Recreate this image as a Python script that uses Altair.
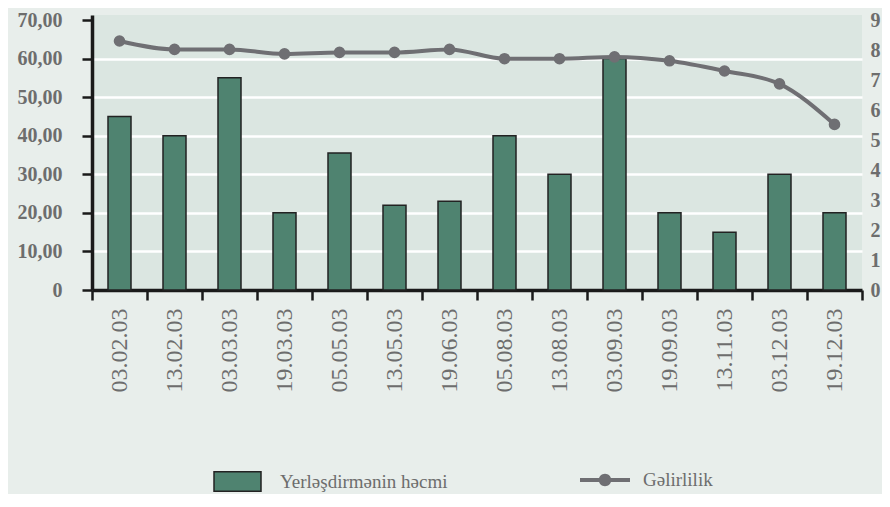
import altair as alt
import pandas as pd

dates = ["03.02.03", "13.02.03", "03.03.03", "19.03.03", "05.05.03", "13.05.03", "19.06.03",
         "05.08.03", "13.08.03", "03.09.03", "19.09.03", "13.11.03", "03.12.03", "19.12.03"]
volume = [45, 40, 55, 20, 35.5, 22, 23, 40, 30, 60, 20, 15, 30, 20]
yield_ = [8.30, 8.02, 8.02, 7.87, 7.92, 7.92, 8.02, 7.71, 7.71, 7.77, 7.64, 7.30, 6.87, 5.52]
left_ticks = [0, 10, 20, 30, 40, 50, 60, 70]
right_ticks = [0, 1, 2, 3, 4, 5, 6, 7, 8, 9]

bar_name = "Yerləşdirmənin həcmi"
line_name = "Gəlirlilik"

df = pd.DataFrame({"date": dates, "volume": volume, "yield": yield_,
                   "s1": bar_name, "s2": line_name})

SERIF = "Liberation Serif"
GRAY = "#6d6d6d"
LINE = "#6f6f73"
GREEN = "#4f8370"

x = alt.X("date:N", sort=dates, title=None,
          scale=alt.Scale(paddingInner=0, paddingOuter=0),
          axis=alt.Axis(labelAngle=270, labelFont=SERIF, labelFontSize=24, labelColor=GRAY,
                        labelPadding=8, tickBand="extent", tickSize=10, tickWidth=2.5,
                        tickColor="#1a1a1a", domainColor="#1a1a1a", domainWidth=3.5,
                        grid=False, labelOverlap=False))

bars = alt.Chart(df).mark_bar(size=23, stroke="#222222", strokeWidth=1.5).encode(
    x=x,
    y=alt.Y("volume:Q", title=None,
            scale=alt.Scale(domain=[0, 71.3], nice=False, zero=True),
            axis=alt.Axis(values=left_ticks,
                          labelExpr="datum.value == 0 ? '0' : replace(format(datum.value, '.2f'), '.', ',')",
                          labelFont=SERIF, labelFontSize=20, labelFontWeight="bold", labelColor=GRAY,
                          labelPadding=20, tickSize=10, tickWidth=2.5, tickColor="#1a1a1a",
                          domainColor="#1a1a1a", domainWidth=3.5,
                          grid=True, gridWidth=2.5,
                          gridColor={"condition": {"test": "datum.value >= 70 || datum.value <= 0", "value": "transparent"}, "value": "#ffffff"})),
    fill=alt.Fill("s1:N", title=None,
                  scale=alt.Scale(domain=[bar_name], range=[GREEN]),
                  legend=alt.Legend(orient="none", legendX=121, legendY=442,
                                    symbolType="M-1,-0.42L1,-0.42L1,0.42L-1,0.42Z",
                                    symbolSize=2209, symbolStrokeColor="#222222",
                                    symbolStrokeWidth=1.5, labelOffset=18, labelLimit=0,
                                    labelFont=SERIF, labelFontSize=19, labelColor=GRAY,
                                    padding=0)),
)

yr = alt.Y("yield:Q", title=None,
           scale=alt.Scale(domain=[0, 9.167], nice=False, zero=True),
           axis=alt.Axis(orient="right", values=right_ticks, labelFont=SERIF, labelFontSize=20,
                         labelFontWeight="bold", labelColor=GRAY, labelPadding=8,
                         ticks=False, domain=False, grid=False))

line = alt.Chart(df).mark_line(color=LINE, strokeWidth=4, interpolate="monotone").encode(
    x=x, y=yr)

pts = alt.Chart(df).mark_point(filled=True, size=135, opacity=1).encode(
    x=x, y=yr,
    fill=alt.Fill("s2:N", title=None,
                  scale=alt.Scale(domain=[line_name], range=[LINE]),
                  legend=alt.Legend(orient="none", legendX=488, legendY=440,
                                    symbolType="M-1,-0.08L1,-0.08L1,0.08L-1,0.08Z M0.25,0 A0.25,0.25 0 1,1 -0.25,0 A0.25,0.25 0 1,1 0.25,0 Z",
                                    symbolSize=2500, symbolStrokeWidth=0, labelOffset=13, labelLimit=0,
                                    labelFont=SERIF, labelFontSize=19, labelColor=GRAY,
                                    padding=0)),
)

right = alt.layer(line, pts)

chart = alt.layer(bars, right).resolve_scale(
    y="independent", fill="independent"
).resolve_legend(fill="independent").properties(
    width=770, height=275,
    autosize=alt.AutoSizeParams(type="none"),
    padding={"left": 84, "top": 7, "right": 20, "bottom": 204},
    background="#e8eeeb",
).configure_view(fill="#dbe6e1", stroke=None)

chart.save("out.html", embed_options={"renderer": "svg", "actions": False})
